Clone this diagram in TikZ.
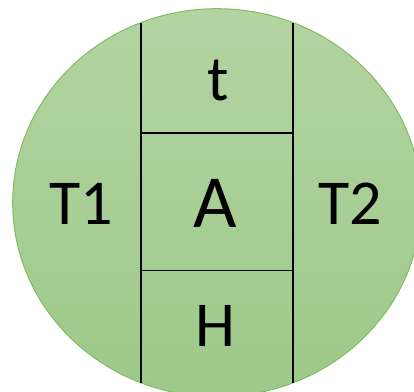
\documentclass[tikz,border=0pt]{standalone}
\usepackage{fontspec}
\setmainfont{Carlito}
\definecolor{gtop}{RGB}{179,212,161}
\definecolor{gbot}{RGB}{157,201,137}
\definecolor{gedge}{RGB}{128,188,98}
\tikzset{
  divider/.style={black, line width=1.6pt},
  lbl/.style={anchor=base, inner sep=0pt, font=\fontsize{64}{64}\selectfont},
  biglbl/.style={anchor=base, inner sep=0pt, font=\fontsize{75}{75}\selectfont}
}
\begin{document}
\begin{tikzpicture}[x=1pt,y=-1pt]
\useasboundingbox (0,0) rectangle (414,391);
\clip (0,0) rectangle (414,391);
\shade[top color=gtop, bottom color=gbot] (217,202.7) ellipse [x radius=204.3, y radius=194];
\draw[gedge, line width=1pt] (217,202.7) ellipse [x radius=204.3, y radius=194];
\coordinate (l1) at (141,22.6);
\coordinate (l2) at (141,382.8);
\coordinate (r1) at (292.7,22.6);
\coordinate (r2) at (292.7,382.8);
\coordinate (h1l) at (141,133);
\coordinate (h1r) at (292.7,133);
\coordinate (h2l) at (141,270.5);
\coordinate (h2r) at (292.7,270.5);
\draw[divider] (l1) -- (l2);
\draw[divider] (r1) -- (r2);
\draw[divider] (h1l) -- (h1r);
\draw[divider] (h2l) -- (h2r);
\node[lbl] (t) at (218,100) {t};
\node[biglbl] (A) at (215,227) {A};
\node[lbl] (H) at (215,346) {H};
\node[lbl] (T1) at (81.5,224) {T1};
\node[lbl] (T2) at (350,224) {T2};
\end{tikzpicture}
\end{document}
